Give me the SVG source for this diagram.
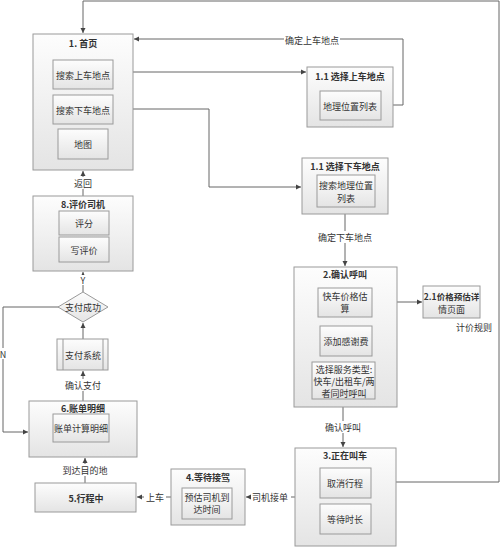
<svg xmlns="http://www.w3.org/2000/svg" width="500" height="548" viewBox="0 0 500 548">
<defs>
<linearGradient id="g" x1="0" y1="0" x2="0" y2="1">
<stop offset="0" stop-color="#fdfdfd"/>
<stop offset="1" stop-color="#e4e4e4"/>
</linearGradient>
<marker id="ah" markerWidth="6" markerHeight="6" refX="5" refY="3" orient="auto" markerUnits="userSpaceOnUse">
<path d="M0,0.5 L5,3 L0,5.5 z" fill="#444"/>
</marker>
</defs>
<style>
.b{fill:url(#g);stroke:#9a9a9a;stroke-width:1}
.t{font-family:"Noto Sans CJK SC","Noto Sans",sans-serif;font-size:9px;fill:#333;text-anchor:middle;dominant-baseline:central}
.tb{font-weight:bold}
.c{fill:none;stroke:#666;stroke-width:1}
.a{marker-end:url(#ah)}
.lb{font-family:"Noto Sans CJK SC","Noto Sans",sans-serif;font-size:9px;fill:#333;text-anchor:middle;dominant-baseline:central}
.bg{fill:#fff}
</style>
<rect width="500" height="548" fill="#fff"/>

<g id="connectors">
<path class="c a" d="M371,482 H499 V1 H83 V33"/>
<path class="c a" d="M113,75 H127 V72 H306"/>
<path class="c a" d="M113,109 H209 V187 H301"/>
<path class="c a" d="M381,105 H403 V39 H134"/>
<path class="c a" d="M345,214 V266"/>
<path class="c a" d="M372,302 H422"/>
<path class="c a" d="M343,407 V447"/>
<path class="c a" d="M295,497 H246"/>
<path class="c a" d="M171,497 H137"/>
<path class="c a" d="M85,483 V458"/>
<path class="c a" d="M83,401 V371"/>
<path class="c a" d="M83,339 V323"/>
<path class="c a" d="M83,292 V272"/>
<path class="c a" d="M83,196 V171"/>
<path class="c a" d="M59,307 H3 V432 H28"/>
<rect class="bg" x="284" y="34" width="56" height="12"/>
<text class="lb" x="312" y="40">确定上车地点</text>
<rect class="bg" x="316" y="231" width="58" height="12"/>
<text class="lb" x="345" y="237">确定下车地点</text>
<text class="lb" x="474" y="327">计价规则</text>
<rect class="bg" x="323" y="421" width="40" height="12"/>
<text class="lb" x="343" y="427">确认呼叫</text>
<rect class="bg" x="251" y="491" width="40" height="12"/>
<text class="lb" x="270" y="497">司机接单</text>
<rect class="bg" x="144" y="491" width="22" height="12"/>
<text class="lb" x="155" y="497">上车</text>
<rect class="bg" x="60" y="464" width="50" height="12"/>
<text class="lb" x="85" y="470">到达目的地</text>
<rect class="bg" x="63" y="379" width="40" height="12"/>
<text class="lb" x="83" y="385">确认支付</text>
<rect class="bg" x="78" y="275" width="10" height="10"/>
<text class="lb" x="83" y="280">Y</text>
<rect class="bg" x="0" y="348" width="7" height="11"/>
<text class="lb" x="3" y="354">N</text>
<rect class="bg" x="72" y="177" width="22" height="12"/>
<text class="lb" x="83" y="183">返回</text>
</g>

<g id="n1">
<rect class="b" x="33" y="34" width="100" height="136"/>
<text class="t tb" x="83" y="43">1. 首页</text>
</g>
<g id="n1a"><rect class="b" x="53" y="60" width="60" height="29"/><text class="t" x="83" y="75">搜索上车地点</text></g>
<g id="n1b"><rect class="b" x="53" y="95" width="60" height="29"/><text class="t" x="83" y="110">搜索下车地点</text></g>
<g id="n1c"><rect class="b" x="58" y="129" width="50" height="30"/><text class="t" x="83" y="144">地图</text></g>

<g id="n11">
<rect class="b" x="307" y="67" width="86" height="60"/>
<text class="t tb" x="350" y="76">1.1 选择上车地点</text>
</g>
<g id="n11a"><rect class="b" x="320" y="91" width="61" height="29"/><text class="t" x="350" y="106">地理位置列表</text></g>

<g id="n12">
<rect class="b" x="302" y="158" width="86" height="56"/>
<text class="t tb" x="345" y="166">1.1 选择下车地点</text>
</g>
<g id="n12a"><rect class="b" x="317" y="175" width="58" height="32"/><text class="t" x="346" y="185">搜索地理位置</text><text class="t" x="346" y="198">列表</text></g>

<g id="n2">
<rect class="b" x="294" y="267" width="103" height="140"/>
<text class="t tb" x="345" y="274">2.确认呼叫</text>
</g>
<g id="n2a"><rect class="b" x="318" y="288" width="54" height="29"/><text class="t" x="345" y="296">快车价格估</text><text class="t" x="345" y="308">算</text></g>
<g id="n2b"><rect class="b" x="320" y="326" width="52" height="30"/><text class="t" x="346" y="341">添加感谢费</text></g>
<g id="n2c"><rect class="b" x="312" y="362" width="63" height="37"/><text class="t" x="344" y="369">选择服务类型:</text><text class="t" x="344" y="381">快车/出租车/两</text><text class="t" x="344" y="393">者同时呼叫</text></g>

<g id="n21">
<rect class="b" x="423" y="286" width="57" height="32"/>
<text class="t tb" x="451.5" y="296" style="font-size:8.5px">2.1价格预估详</text>
<text class="t" x="451.5" y="309">情页面</text>
</g>

<g id="n3">
<rect class="b" x="295" y="448" width="101" height="98"/>
<text class="t tb" x="345" y="455">3.正在叫车</text>
</g>
<g id="n3a"><rect class="b" x="320" y="468" width="51" height="30"/><text class="t" x="345" y="483">取消行程</text></g>
<g id="n3b"><rect class="b" x="320" y="504" width="51" height="30"/><text class="t" x="345" y="519">等待时长</text></g>

<g id="n4">
<rect class="b" x="171" y="469" width="74" height="56"/>
<text class="t tb" x="208" y="477">4.等待接驾</text>
</g>
<g id="n4a"><rect class="b" x="182" y="488" width="50" height="31"/><text class="t" x="207" y="497">预估司机到</text><text class="t" x="207" y="509">达时间</text></g>

<g id="n5">
<rect class="b" x="35" y="483" width="101" height="29"/>
<text class="t tb" x="86" y="498">5.行程中</text>
</g>

<g id="n6">
<rect class="b" x="29" y="401" width="108" height="56"/>
<text class="t tb" x="83" y="408">6.账单明细</text>
</g>
<g id="n6a"><rect class="b" x="53" y="414" width="56" height="28"/><text class="t" x="81" y="428">账单计算明细</text></g>

<g id="pay">
<rect class="b" x="57" y="339" width="51" height="31"/>
<line x1="63" y1="339" x2="63" y2="370" stroke="#9a9a9a"/>
<line x1="103" y1="339" x2="103" y2="370" stroke="#9a9a9a"/>
<text class="t" x="83" y="355">支付系统</text>
</g>

<g id="dec">
<path class="b" d="M83,292 L108,307 L83,322 L58,307 z"/>
<text class="t" x="83" y="307">支付成功</text>
</g>

<g id="n8">
<rect class="b" x="33" y="196" width="100" height="75"/>
<text class="t tb" x="83" y="204">8.评价司机</text>
</g>
<g id="n8a"><rect class="b" x="59" y="211" width="50" height="24"/><text class="t" x="84" y="223">评分</text></g>
<g id="n8b"><rect class="b" x="59" y="237" width="50" height="25"/><text class="t" x="84" y="250">写评价</text></g>
</svg>
